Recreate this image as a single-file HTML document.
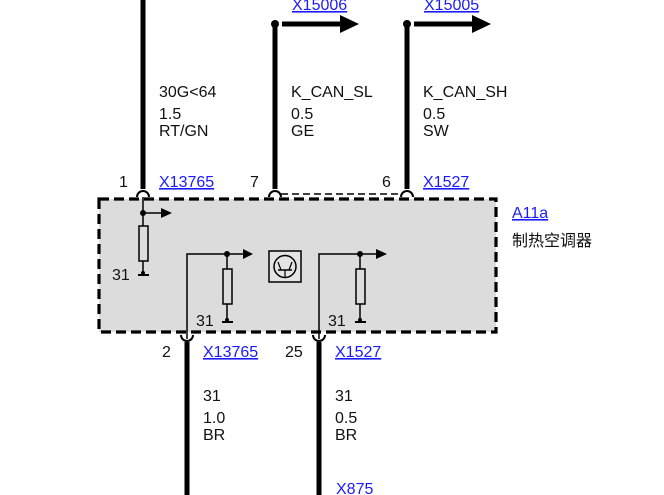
<!DOCTYPE html>
<html><head><meta charset="utf-8"><style>
html,body{margin:0;padding:0;background:#fff;width:664px;height:495px;overflow:hidden}
svg text{font-family:"Liberation Sans","Noto Sans CJK SC",sans-serif;font-size:16px;fill:#111}
svg .l{fill:#1a1aff;text-decoration:underline}
</style></head><body>
<svg width="664" height="495" viewBox="0 0 664 495" xmlns="http://www.w3.org/2000/svg">
<rect x="99" y="199" width="397" height="133" fill="#dcdcdc" stroke="#000" stroke-width="3.2" stroke-dasharray="10,5"/>
<line x1="143" y1="0" x2="143" y2="189" stroke="#000" stroke-width="5"/>
<path d="M137,197 A6,6 0 0 1 149,197" fill="none" stroke="#000" stroke-width="2"/>
<line x1="275" y1="24" x2="275" y2="189" stroke="#000" stroke-width="5"/>
<path d="M269,197 A6,6 0 0 1 281,197" fill="none" stroke="#000" stroke-width="2"/>
<line x1="407" y1="24" x2="407" y2="189" stroke="#000" stroke-width="5"/>
<path d="M401,197 A6,6 0 0 1 413,197" fill="none" stroke="#000" stroke-width="2"/>
<line x1="281" y1="194" x2="401" y2="194" stroke="#000" stroke-width="1.5" stroke-dasharray="7,4"/>
<circle cx="275" cy="24" r="4" fill="#000"/>
<line x1="282" y1="24" x2="342" y2="24" stroke="#000" stroke-width="5"/>
<polygon points="340,15 359,24 340,33" fill="#000"/>
<circle cx="407" cy="24" r="4" fill="#000"/>
<line x1="414" y1="24" x2="474" y2="24" stroke="#000" stroke-width="5"/>
<polygon points="472,15 491,24 472,33" fill="#000"/>
<line x1="143" y1="197" x2="143" y2="226" stroke="#000" stroke-width="1.5"/>
<circle cx="143" cy="213" r="3" fill="#000"/>
<line x1="143" y1="213" x2="162" y2="213" stroke="#000" stroke-width="1.5"/>
<polygon points="161,208 172,213 161,218" fill="#000"/>
<rect x="139" y="226" width="9" height="35" fill="none" stroke="#000" stroke-width="1.5"/>
<line x1="143" y1="261" x2="143" y2="274" stroke="#000" stroke-width="1.5"/>
<line x1="138" y1="275" x2="149" y2="275" stroke="#000" stroke-width="2"/>
<circle cx="143" cy="273" r="2" fill="#000"/>
<polyline points="187,339 187,254 244,254" fill="none" stroke="#000" stroke-width="1.5"/>
<polygon points="243,249 253,254 243,259" fill="#000"/>
<circle cx="227" cy="254" r="3" fill="#000"/>
<rect x="223" y="269" width="9" height="35" fill="none" stroke="#000" stroke-width="1.5"/>
<line x1="227" y1="254" x2="227" y2="269" stroke="#000" stroke-width="1.5"/>
<line x1="227" y1="304" x2="227" y2="321" stroke="#000" stroke-width="1.5"/>
<line x1="222" y1="322" x2="233" y2="322" stroke="#000" stroke-width="2"/>
<circle cx="227" cy="320" r="2" fill="#000"/>
<polyline points="319,339 319,254 377,254" fill="none" stroke="#000" stroke-width="1.5"/>
<polygon points="376,249 387,254 376,259" fill="#000"/>
<circle cx="360" cy="254" r="3" fill="#000"/>
<rect x="356" y="269" width="9" height="35" fill="none" stroke="#000" stroke-width="1.5"/>
<line x1="360" y1="254" x2="360" y2="269" stroke="#000" stroke-width="1.5"/>
<line x1="360" y1="304" x2="360" y2="321" stroke="#000" stroke-width="1.5"/>
<line x1="355" y1="322" x2="366" y2="322" stroke="#000" stroke-width="2"/>
<circle cx="360" cy="320" r="2" fill="#000"/>
<rect x="269" y="251" width="32" height="31" fill="#e4e4e4" stroke="#000" stroke-width="1.5"/>
<circle cx="285" cy="266.5" r="11" fill="none" stroke="#000" stroke-width="1.5"/>
<line x1="285" y1="270" x2="285" y2="278" stroke="#000" stroke-width="1.2"/>
<line x1="278" y1="270" x2="292" y2="270" stroke="#000" stroke-width="1.5"/>
<line x1="281" y1="270" x2="278" y2="262" stroke="#000" stroke-width="1.2"/>
<line x1="289" y1="270" x2="292" y2="262" stroke="#000" stroke-width="1.2"/>
<path d="M181,335 A6,6 0 0 0 193,335" fill="none" stroke="#000" stroke-width="2"/>
<line x1="187" y1="342" x2="187" y2="495" stroke="#000" stroke-width="5"/>
<path d="M313,335 A6,6 0 0 0 325,335" fill="none" stroke="#000" stroke-width="2"/>
<line x1="319" y1="342" x2="319" y2="495" stroke="#000" stroke-width="5"/>
<text class="l" x="292" y="10">X15006</text>
<text class="l" x="424" y="10">X15005</text>
<text x="159" y="97">30G&lt;64</text>
<text x="159" y="119">1.5</text>
<text x="159" y="136">RT/GN</text>
<text x="291" y="97">K_CAN_SL</text>
<text x="291" y="119">0.5</text>
<text x="291" y="136">GE</text>
<text x="423" y="97">K_CAN_SH</text>
<text x="423" y="119">0.5</text>
<text x="423" y="136">SW</text>
<text x="119" y="187">1</text>
<text class="l" x="159" y="187">X13765</text>
<text x="250" y="187">7</text>
<text x="382" y="187">6</text>
<text class="l" x="423" y="187">X1527</text>
<text class="l" x="512" y="218">A11a</text>
<text x="512" y="246">制热空调器</text>
<text x="112" y="280">31</text>
<text x="196" y="326">31</text>
<text x="328" y="326">31</text>
<text x="162" y="357">2</text>
<text class="l" x="203" y="357">X13765</text>
<text x="285" y="357">25</text>
<text class="l" x="335" y="357">X1527</text>
<text x="203" y="401">31</text>
<text x="203" y="423">1.0</text>
<text x="203" y="440">BR</text>
<text x="335" y="401">31</text>
<text x="335" y="423">0.5</text>
<text x="335" y="440">BR</text>
<text x="336" y="494" style="fill:#1a1aff">X875</text>
</svg>
</body></html>
